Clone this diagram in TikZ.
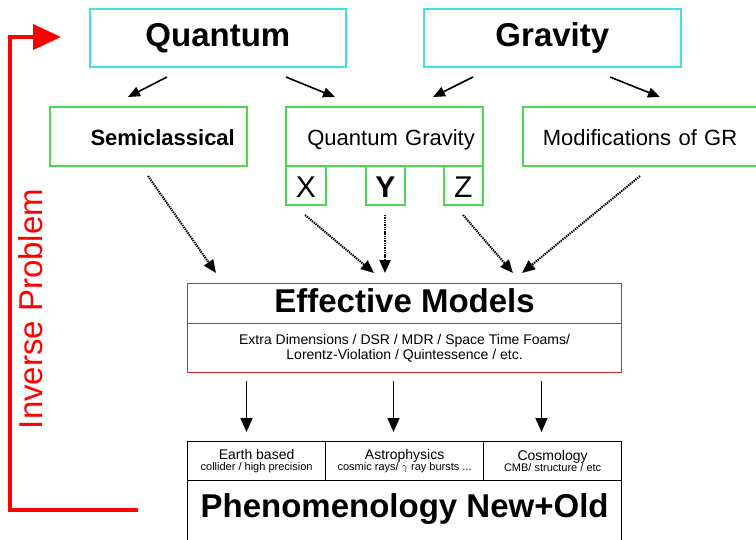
\documentclass[tikz,border=0pt]{standalone}
\usepackage{fontspec}
\setmainfont{Liberation Sans}
\usetikzlibrary{arrows.meta}

\definecolor{qcyan}{HTML}{3EE2E2}
\definecolor{qgreen}{HTML}{4CD84C}
\definecolor{emred}{HTML}{D42626}
\definecolor{invred}{HTML}{FF0000}

\newcommand{\fsz}[2]{\fontsize{#1}{#2}\selectfont}

\begin{document}
\begin{tikzpicture}[x=1pt,y=-1pt,
  boxbase/.style={draw, line width=1.7pt, inner sep=0pt, anchor=north west},
  cyanbox/.style={boxbase, draw=qcyan, font=\fsz{33}{38}\bfseries},
  greenbox/.style={boxbase, draw=qgreen, font=\fsz{22}{26}},
  letterbox/.style={boxbase, draw=qgreen, font=\fsz{30}{30},
    minimum height=39pt, text height=31.5pt, text depth=7.5pt},
  redbox/.style={boxbase, draw=emred, line width=1.2pt},
  phenbox/.style={boxbase, draw=black, line width=1.2pt},
  cellbox/.style={phenbox, minimum height=39pt, align=center, font=\fsz{11}{11}},
  arr/.style={line width=1.6pt, -{Triangle[length=12pt,width=10pt]}},
  downarr/.style={line width=1.7pt, -{Triangle[length=14pt,width=12pt]}},
  dotarr/.style={line width=2pt, dash pattern=on 1.4pt off 0.9pt,
    -{Triangle[length=13pt,width=11pt]}},
]
\fill[white] (0,0) rectangle (756,539);
\useasboundingbox (0,0) rectangle (756,539);

% top level
\node[cyanbox, minimum width=256pt, minimum height=58pt,
      text height=38pt, text depth=20pt] (quantum) at (89,8) {Quantum};
\node[cyanbox, minimum width=257pt, minimum height=58pt,
      text height=38pt, text depth=20pt] (gravity) at (423,8) {Gravity};

% approaches
\node[greenbox, font=\fsz{22}{26}\bfseries, minimum width=197pt, minimum height=59pt,
      text height=39pt, text depth=20pt, inner xsep=12pt, text width=173pt,
      align=right] (semi) at (49,106) {Semiclassical};
\node[greenbox, minimum width=197pt, minimum height=59pt,
      text height=39pt, text depth=20pt, inner xsep=8pt, text width=181pt,
      align=right] (qg) at (285,106) {Quantum Gravity};
\node[greenbox, minimum width=260pt, minimum height=59pt,
      text height=39pt, text depth=20pt, inner xsep=20pt, text width=220pt,
      align=left] (mgr) at (522,106) {Modifications of GR};

\node[letterbox, minimum width=40pt] (qx) at (285,165) {X};
\node[letterbox, minimum width=39pt, font=\fsz{30}{30}\bfseries] (qy) at (365,165) {Y};
\node[letterbox, minimum width=39pt] (qz) at (443,165) {Z};

% effective models
\node[redbox, minimum width=434pt, minimum height=40pt, text height=29pt,
      text depth=11pt, font=\fsz{33}{38}\bfseries] (emt) at (187,283) {Effective Models};
\node[redbox, minimum width=434pt, minimum height=49pt, align=center,
      font=\fsz{14}{15}] (emb) at (187,323)
      {Extra Dimensions / DSR / MDR / Space Time Foams/\\Lorentz-Violation / Quintessence / etc.};

% phenomenology
\node[cellbox, minimum width=138pt] (earth) at (187,441)
      {{\fsz{14}{14}Earth based}\\collider / high precision};
\node[cellbox, minimum width=158pt] (astro) at (325,441)
      {{\fsz{14}{14}Astrophysics}\\cosmic rays/ $\gamma$ ray bursts ...};
\node[cellbox, minimum width=138pt] (cosmo) at (483,441)
      {{\fsz{14}{14}Cosmology}\\CMB/ structure / etc};
\node[phenbox, minimum width=434pt, minimum height=80pt, text height=37pt,
      text depth=43pt, font=\fsz{33}{38}\bfseries] (phen) at (187,480)
      {Phenomenology New+Old};

% arrow end points
\coordinate (q1s) at (167,77);  \coordinate (q1e) at (128,97);
\coordinate (q2s) at (286,77);  \coordinate (q2e) at (335,97);
\coordinate (g1s) at (473,77);  \coordinate (g1e) at (433,97);
\coordinate (g2s) at (610,77);  \coordinate (g2e) at (660,97);

\coordinate (sms) at (148,176); \coordinate (sme) at (216,273);
\coordinate (xs)  at (305,215); \coordinate (xe)  at (374,273);
\coordinate (ys)  at (385,215); \coordinate (ye)  at (385,273);
\coordinate (zs)  at (463,215); \coordinate (ze)  at (513,273);
\coordinate (ms)  at (640,176); \coordinate (me)  at (522,273);

\coordinate (d1s) at (246.5,381); \coordinate (d1e) at (246.5,432);
\coordinate (d2s) at (393.5,381); \coordinate (d2e) at (393.5,432);
\coordinate (d3s) at (541.5,381); \coordinate (d3e) at (541.5,432);

% solid arrows from the top level
\draw[arr] (q1s) -- (q1e);
\draw[arr] (q2s) -- (q2e);
\draw[arr] (g1s) -- (g1e);
\draw[arr] (g2s) -- (g2e);

% dotted arrows into the effective models
\draw[dotarr] (sms) -- (sme);
\draw[dotarr] (xs) -- (xe);
\draw[dotarr] (ys) -- (ye);
\draw[dotarr] (zs) -- (ze);
\draw[dotarr] (ms) -- (me);

% arrows down to phenomenology
\draw[downarr] (d1s) -- (d1e);
\draw[downarr] (d2s) -- (d2e);
\draw[downarr] (d3s) -- (d3e);

% inverse problem loop
\coordinate (invs) at (138,510);
\coordinate (inve) at (61,37);
\draw[invred, line width=4pt, -{Triangle[length=28pt,width=25pt]}]
  (invs) -- (10,510) -- (10,37) -- (inve);
\node[rotate=90, text=invred, font=\fsz{33}{36}, inner sep=0pt] (inv) at (31,309)
  {Inverse Problem};
\end{tikzpicture}
\end{document}
